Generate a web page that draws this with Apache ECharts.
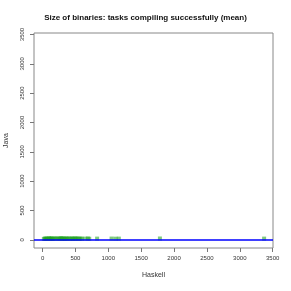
<!DOCTYPE html>
<html>
<head>
<meta charset="utf-8">
<script src="https://cdn.jsdelivr.net/npm/echarts@6/dist/echarts.min.js"></script>
<style>html,body{margin:0;padding:0;background:#fff}#c{width:291px;height:291px}</style>
</head>
<body>
<div id="c"></div>
<script>
const titleText = 'Size of binaries: tasks compiling successfully (mean)';
const xName = 'Haskell';
const yName = 'Java';
const tickValues = [0, 500, 1000, 1500, 2000, 2500, 3000, 3500];
const haskellSizes = [20, 35, 45, 60, 75, 90, 100, 115, 130, 140, 155, 170, 190, 210, 230, 250, 265, 280, 295, 305, 320, 335, 350, 365, 380, 400, 420, 440, 455, 470, 490, 505, 520, 540, 560, 580, 600, 650, 690, 710, 830, 1050, 1110, 1160, 1785, 3370];
const javaSizes = [15, 20, 18, 22, 16, 20, 25, 18, 20, 23, 17, 21, 19, 24, 20, 18, 22, 26, 20, 17, 23, 19, 21, 18, 20, 24, 16, 20, 22, 19, 21, 18, 23, 20, 17, 21, 19, 20, 22, 18, 20, 21, 19, 20, 22, 20];
const fitLineY = 0;

const pts = haskellSizes.map((x, i) => [x, javaSizes[i]]);
const chart = echarts.init(document.getElementById('c'), null, {renderer: 'canvas'});
const fmt = v => String(v);
const axisCommon = {
  type: 'value',
  splitLine: {show: false},
  axisLine: {show: false, onZero: false},
  axisTick: {show: true, inside: false, customValues: tickValues, length: 4, lineStyle: {color: '#777', width: 1}},
  axisLabel: {customValues: tickValues, formatter: fmt, color: '#333', fontSize: 6, fontFamily: 'Liberation Sans'},
  nameLocation: 'middle',
  nameTextStyle: {color: '#333', fontSize: 7, fontFamily: 'Liberation Sans'}
};
chart.setOption({
  animation: false,
  backgroundColor: '#fff',
  title: {
    text: titleText, left: 'center', top: 9,
    textStyle: {fontSize: 8, fontWeight: 'bold', color: '#111', fontFamily: 'Liberation Sans'}
  },
  grid: {left: 34, right: 18, top: 33, bottom: 43, containLabel: false, outerBoundsMode: 'none', show: true, borderColor: '#888', borderWidth: 1, backgroundColor: 'transparent'},
  xAxis: Object.assign({}, axisCommon, {
    min: -130, max: 3505, name: xName, nameGap: 24,
    axisLabel: Object.assign({}, axisCommon.axisLabel, {margin: 7})
  }),
  yAxis: Object.assign({}, axisCommon, {
    min: -140, max: 3525, name: yName, nameGap: 24,
    axisLabel: Object.assign({}, axisCommon.axisLabel, {rotate: 90, margin: 9})
  }),
  series: [
    {
      type: 'scatter', data: pts, symbol: 'rect', symbolSize: [4, 4], z: 3,
      itemStyle: {color: 'rgba(30,160,30,0.7)'}
    },
    {
      type: 'line', data: [], z: 2,
      markLine: {
        silent: true, symbol: 'none', label: {show: false},
        lineStyle: {color: '#0000ff', width: 1.5, type: 'solid'},
        data: [{yAxis: fitLineY}]
      }
    }
  ]
});
</script>
</body>
</html>
